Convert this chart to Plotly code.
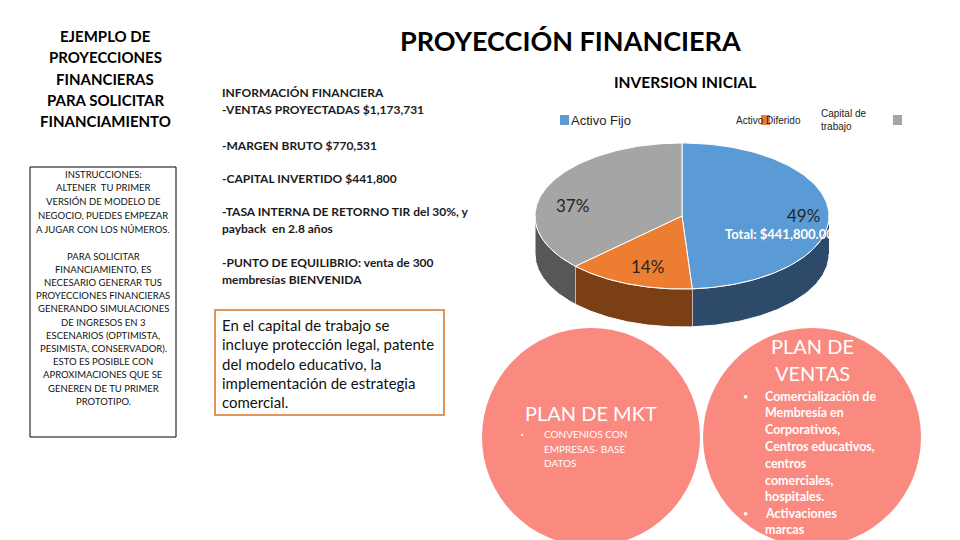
import numpy as np
import plotly.graph_objects as go

# ---------------- data ----------------
categories = ["Activo Fijo", "Activo Diferido", "Capital de trabajo"]
values = [216000, 62000, 163800]
total_label = "Total: ${:,.2f}"

left_title = ["EJEMPLO DE", "PROYECCIONES", "FINANCIERAS", "PARA SOLICITAR", "FINANCIAMIENTO"]
instr_1 = ["INSTRUCCIONES:", "ALTENER  TU PRIMER", "VERSIÓN DE MODELO DE",
           "NEGOCIO, PUEDES EMPEZAR", "A JUGAR CON LOS NÚMEROS."]
instr_2 = ["PARA SOLICITAR", "FINANCIAMIENTO, ES", "NECESARIO GENERAR TUS",
           "PROYECCIONES FINANCIERAS", "GENERANDO SIMULACIONES", "DE INGRESOS EN 3",
           "ESCENARIOS (OPTIMISTA,", "PESIMISTA, CONSERVADOR).", "ESTO ES POSIBLE CON",
           "APROXIMACIONES QUE SE", "GENEREN DE TU PRIMER", "PROTOTIPO."]
info_lines = [("INFORMACIÓN FINANCIERA", 92), ("-VENTAS PROYECTADAS $1,173,731", 109),
              ("-MARGEN BRUTO $770,531", 145), ("-CAPITAL INVERTIDO $441,800", 178),
              ("-TASA INTERNA DE RETORNO TIR del 30%, y", 211), ("payback  en 2.8 años", 228),
              ("-PUNTO DE EQUILIBRIO: venta de 300", 262), ("membresías BIENVENIDA", 279)]
note_lines = ["En el capital de trabajo se", "incluye protección legal, patente",
              "del modelo educativo, la", "implementación de estrategia", "comercial."]
mkt_items = ["CONVENIOS CON", "EMPRESAS- BASE", "DATOS"]
ventas_items = ["Comercialización de", "Membresía en", "Corporativos,", "Centros educativos,",
                "centros", "comerciales,", "hospitales."]
ventas_items2 = ["Activaciones", "marcas"]

# ---------------- style ----------------
top_colors = ["#5B9BD5", "#ED7D31", "#A5A5A5"]
side_colors = ["#2E4A6B", "#7B3F15", "#575757"]
salmon = "#FA8980"
FONT = "Lato"
W, H = 960, 540

cx, cy, rx, ry, depth = 682, 216, 147, 73, 38

fig = go.Figure()

def ex(t):
    return cx + rx * np.sin(np.radians(t))

def ey(t):
    return cy - ry * np.cos(np.radians(t))

total = sum(values)
bounds = np.concatenate([[0], np.cumsum(values) / total * 360])

# side walls (front half, 90..270 degrees clockwise from top)
for i in range(len(values)):
    a0, a1 = max(bounds[i], 90), min(bounds[i + 1], 270)
    if a1 <= a0:
        continue
    t = np.linspace(a0, a1, 80)
    xs = np.concatenate([ex(t), ex(t[::-1])])
    ys = np.concatenate([ey(t), ey(t[::-1]) + depth])
    fig.add_trace(go.Scatter(x=xs, y=ys, fill="toself", fillcolor=side_colors[i],
                             mode="lines", line=dict(color="white", width=1),
                             hoverinfo="skip", showlegend=False))

# top faces
for i in range(len(values)):
    t = np.linspace(bounds[i], bounds[i + 1], 120)
    xs = np.concatenate([[cx], ex(t), [cx]])
    ys = np.concatenate([[cy], ey(t), [cy]])
    fig.add_trace(go.Scatter(x=xs, y=ys, fill="toself", fillcolor=top_colors[i],
                             mode="lines", line=dict(color="white", width=1),
                             hoverinfo="skip", showlegend=False))

# percent labels
label_pos = [(803, 215), (647, 266), (572, 205)]
for v, (lx, ly) in zip(values, label_pos):
    fig.add_annotation(x=lx, y=ly, xref="x", yref="y", text=f"{v / total:.0%}", showarrow=False,
                       font=dict(family=FONT, size=17, color="#262626"))

# total label (clipped by the chart area like the original)
fig.add_trace(go.Scatter(x=[725], y=[236], mode="text", text=[f"<b>{total_label.format(total)}</b>"],
                         textposition="middle right", cliponaxis=True,
                         textfont=dict(family=FONT, size=13, color="white"),
                         xaxis="x2", yaxis="y2", hoverinfo="skip", showlegend=False))

# legend
legend_sq = [(560, 120), (761, 120), (893, 120)]
for (sx, sy), c in zip(legend_sq, top_colors):
    fig.add_shape(type="rect", x0=sx, x1=sx + 9, y0=sy - 5, y1=sy + 5, fillcolor=c, line_width=0,
                  layer="above")
fig.add_annotation(x=569, y=120, xref="x", yref="y", text=categories[0], showarrow=False,
                   xanchor="left", font=dict(family="Liberation Sans", size=13, color="#222"))
fig.add_annotation(x=734, y=120, xref="x", yref="y", text=categories[1], showarrow=False,
                   xanchor="left", font=dict(family="Liberation Sans", size=10, color="#222"))
fig.add_annotation(x=819, y=119.5, xref="x", yref="y", text="Capital de<br>trabajo", showarrow=False,
                   xanchor="left", align="left", font=dict(family="Liberation Sans", size=10, color="#222"))

def txt(x, y, s, size, color="black", bold=False, anchor="left", family=FONT):
    fig.add_annotation(x=x, y=y, xref="x", yref="y", text=f"<b>{s}</b>" if bold else s,
                       showarrow=False, xanchor=anchor, yanchor="middle",
                       font=dict(family=family, size=size, color=color))

# titles
txt(570, 40, "PROYECCIÓN FINANCIERA", 27, bold=True, anchor="center")
txt(685, 82, "INVERSION INICIAL", 15.5, bold=True, anchor="center")
for k, s in enumerate(left_title):
    txt(105, 36 + k * 21.3, s, 15, bold=True, anchor="center")

# instructions box
fig.add_shape(type="rect", x0=30, x1=176, y0=167, y1=437, line=dict(color="black", width=1),
              fillcolor="rgba(0,0,0,0)")
for k, s in enumerate(instr_1):
    txt(103, 174 + k * 13.8, s, 9.5, anchor="center", color="#111")
for k, s in enumerate(instr_2):
    txt(103, 256 + k * 13.2, s, 9.5, anchor="center", color="#111")

# info text
for s, y in info_lines:
    txt(220, y, s, 12, bold=True, color="#1a1a1a")

# note box
fig.add_shape(type="rect", x0=215, x1=444, y0=310, y1=415, line=dict(color="#E0955A", width=2),
              fillcolor="white", layer="below")
for k, s in enumerate(note_lines):
    txt(220, 325 + k * 19.3, s, 15, color="#111")

# circles
fig.add_shape(type="circle", x0=482, x1=700, y0=328, y1=546, fillcolor=salmon, line_width=0,
              layer="below")
fig.add_shape(type="circle", x0=703, x1=921, y0=328, y1=546, fillcolor=salmon, line_width=0,
              layer="below")

txt(591, 413, "PLAN DE MKT", 20, color="white", anchor="center")
txt(522, 434, "▪", 7, color="white", anchor="center")
for k, s in enumerate(mkt_items):
    txt(542, 434 + k * 14.5, s, 10, color="white")

txt(812, 346, "PLAN DE", 20, color="white", anchor="center")
txt(812, 373, "VENTAS", 20, color="white", anchor="center")
txt(745, 396, "•", 9, color="white", anchor="center")
for k, s in enumerate(ventas_items):
    txt(763, 396 + k * 16.8, s, 12.5, color="white", bold=True)
txt(745, 513, "•", 9, color="white", anchor="center")
for k, s in enumerate(ventas_items2):
    txt(763, 513 + k * 16.8, s, 12.5, color="white", bold=True)

fig.update_layout(
    width=W, height=H, margin=dict(l=0, r=0, t=0, b=0),
    paper_bgcolor="white", plot_bgcolor="rgba(0,0,0,0)", showlegend=False,
    xaxis=dict(range=[0, W], visible=False, fixedrange=True, domain=[0, 1]),
    yaxis=dict(range=[H, 0], visible=False, fixedrange=True, domain=[0, 1]),
    xaxis2=dict(range=[0, 829], visible=False, domain=[0, 829 / W], anchor="y2", fixedrange=True),
    yaxis2=dict(range=[H, 0], visible=False, domain=[0, 1], anchor="x2", fixedrange=True),
)

fig.write_html("out.html", config={"displayModeBar": False},
               post_script="document.body.style.margin='0';")
